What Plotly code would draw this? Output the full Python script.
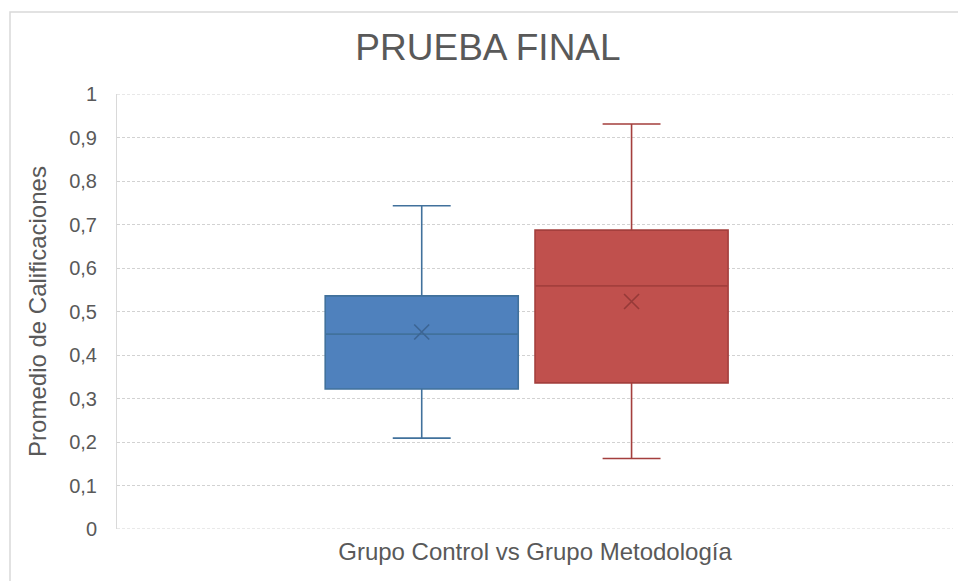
import plotly.graph_objects as go

# Summary statistics for each group (final test scores)
grupos = ["Grupo Control", "Grupo Metodología"]
categoria = "Grupo Control vs Grupo Metodología"
minimo = [0.209, 0.162]
q1 = [0.322, 0.336]
mediana = [0.448, 0.559]
q3 = [0.536, 0.687]
maximo = [0.743, 0.931]
media = [0.453, 0.523]
marcas_y = [i / 10 for i in range(11)]

relleno = ["#4F81BD", "#C0504D"]
borde = ["#41719C", "#A43F3D"]
marca = ["#3C6594", "#963A38"]

FONT = "Liberation Sans, Arial, sans-serif"
GRIS = "#595959"
GRID = "#D2D2D2"
BOX_GAP = 0.498

fig = go.Figure()
for i, g in enumerate(grupos):
    fig.add_trace(go.Box(
        name=g,
        x=[categoria],
        q1=[q1[i]], median=[mediana[i]], q3=[q3[i]],
        lowerfence=[minimo[i]], upperfence=[maximo[i]],
        fillcolor=relleno[i],
        line=dict(color=borde[i], width=1.6),
        whiskerwidth=0.3,
        offsetgroup=str(i),
        showlegend=False,
    ))
for i, g in enumerate(grupos):
    fig.add_trace(go.Scatter(
        name=g + " (media)",
        x=[categoria], y=[media[i]],
        mode="markers",
        marker=dict(symbol="x-thin", size=15,
                    line=dict(color=marca[i], width=1.6)),
        offsetgroup=str(i),
        showlegend=False,
    ))

# Plotly skips gridlines sitting exactly on the plot edges; draw those two here
bordes_grid = [dict(type="line", xref="paper", yref="y", x0=0, x1=1,
                    y0=v, y1=v, layer="below",
                    line=dict(color=GRID, width=1, dash="3px,2px"))
               for v in (marcas_y[0], marcas_y[-1])]

marco = dict(type="rect", xref="paper", yref="paper",
             x0=(10 - 117) / 836, x1=(965 - 117) / 836,
             y0=(529 - 600) / 435, y1=(529 - 12) / 435,
             line=dict(color="#D9D9D9", width=1.5), fillcolor="rgba(0,0,0,0)",
             layer="below")

fig.update_layout(
    width=958, height=581,
    margin=dict(l=117, r=5, t=94, b=52),
    paper_bgcolor="white", plot_bgcolor="white",
    boxmode="group", boxgap=BOX_GAP, boxgroupgap=0.08,
    scattermode="group", scattergap=BOX_GAP,
    separators=", ",
    font=dict(family=FONT, color=GRIS),
    title=dict(text="PRUEBA FINAL", font=dict(size=37, color=GRIS, family=FONT),
               x=488 / 958, xanchor="center", xref="container",
               y=1 - 47 / 581, yanchor="middle", yref="container"),
    xaxis=dict(
        type="category", range=[-0.49, 0.51],
        showticklabels=False, showgrid=False, zeroline=False, showline=False,
        title=dict(text=categoria, font=dict(size=24, color=GRIS), standoff=14),
        automargin=False,
    ),
    yaxis=dict(
        range=[0, 1], tickvals=marcas_y,
        showgrid=True, gridcolor=GRID, gridwidth=1, griddash="3px,2px",
        zeroline=False, showline=True, linecolor="#D9D9D9", linewidth=1,
        ticks="", tickfont=dict(size=20, color=GRIS), ticklabelstandoff=15,
        title=dict(text="Promedio de Calificaciones", font=dict(size=24, color=GRIS), standoff=15),
        automargin=False,
    ),
    shapes=[marco] + bordes_grid,
)

fig.write_html("out.html")
